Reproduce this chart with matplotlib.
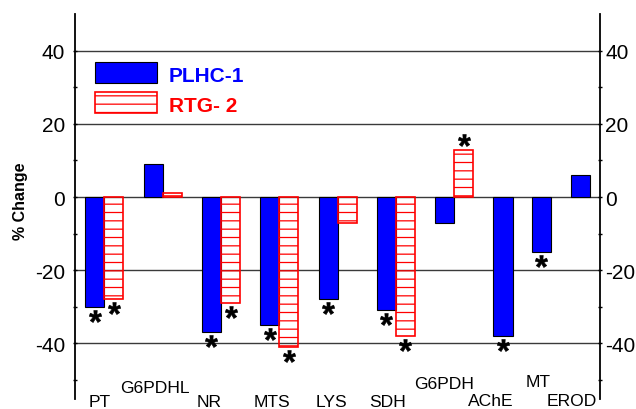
import numpy as np
import matplotlib
matplotlib.use("Agg")
import matplotlib.pyplot as plt
from matplotlib.patches import Rectangle
from matplotlib.path import Path
from matplotlib.textpath import TextPath
from matplotlib.font_manager import FontProperties
from matplotlib.transforms import blended_transform_factory

plt.rcParams['font.family'] = ['Liberation Sans', 'DejaVu Sans']
plt.rcParams['hatch.linewidth'] = 0.9
plt.rcParams['axes.unicode_minus'] = False

# ---- data: % change versus control for the two cell lines ----
endpoints = ["PT", "G6PDHL", "NR", "MTS", "LYS", "SDH", "G6PDH", "AChE", "MT", "EROD"]
plhc1 = [-30, 9, -37, -35, -28, -31, -7, -38, -15, 6]
rtg2 = [-28, 1, -29, -41, -7, -38, 13, None, None, None]
plhc1_sig = [True, False, True, True, True, True, False, True, True, False]
rtg2_sig = [True, False, True, True, False, True, True, False, False, False]

# ---- layout ----
slot = np.array([0, 1, 2, 3, 4, 5, 6, 7, 7.66, 8.33])
label_x = [-0.08, 0.87, 1.80, 2.87, 3.89, 4.86, 5.83, 6.63, 7.44, 8.01]
label_base_px = [407.0, 393.3, 407.0, 407.0, 407.0, 407.0, 389.5, 406.5, 386.7, 406.5]
bw = 0.327
star_gap = 2.5

W, H = 636, 410
fig = plt.figure(figsize=(W / 100, H / 100), dpi=100)
ax = fig.add_axes([75 / W, 10 / H, 525 / W, 385 / H])
ax.set_xlim(-0.504, 8.50)
ax.set_ylim(-55.3, 50.1)

# grid lines
for g in [-40, -20, 0, 20, 40]:
    ax.axhline(g, color='#3a3a3a', lw=1.0, zorder=1)

blue_x = slot - bw / 2
ax.bar(blue_x, plhc1, width=bw, color='#0000ff', edgecolor='black',
       linewidth=0.8, zorder=2)

red_idx = [i for i, v in enumerate(rtg2) if v is not None]
red_x = slot[red_idx] + bw / 2
red_vals = [rtg2[i] for i in red_idx]
ax.bar(red_x, red_vals, width=bw, facecolor='none', edgecolor='#ff0000',
       hatch='--', linewidth=1.2, zorder=2)

# asterisk marker centred on its own ink
fp = FontProperties(family='Liberation Sans', weight='bold')
tp = TextPath((0, 0), '*', prop=fp, size=1)
verts = tp.vertices.copy()
codes = tp.codes
ink = codes != Path.CLOSEPOLY
ctr = (verts[ink].min(axis=0) + verts[ink].max(axis=0)) / 2
verts = verts - ctr
verts[~ink] = 0.0
star = Path(verts, codes)

sx, sy = [], []
for i, v in enumerate(plhc1):
    if plhc1_sig[i]:
        sx.append(blue_x[i])
        sy.append(v - star_gap if v < 0 else v + star_gap)
for i, v in enumerate(rtg2):
    if v is not None and rtg2_sig[i]:
        sx.append(slot[i] + bw / 2)
        sy.append(v - star_gap if v < 0 else v + star_gap)
ax.plot(sx, sy, ls='none', marker=star, ms=9, mfc='black', mec='black',
        mew=0.4, zorder=3, clip_on=False)

# axes styling
for s in ['top', 'bottom', 'right']:
    ax.spines[s].set_visible(False)
ax.spines['left'].set_linewidth(1.3)
ax.set_xticks([])
ax.set_yticks([-40, -20, 0, 20, 40])
ax.set_yticks([-50, -30, -10, 10, 30], minor=True)
ax.tick_params(axis='y', which='both', direction='inout', width=1.0,
               labelsize=15, pad=5.5)
ax.tick_params(axis='y', which='major', length=3.5)
ax.tick_params(axis='y', which='minor', length=3)

ax2 = ax.twinx()
ax2.set_ylim(ax.get_ylim())
for s in ['top', 'bottom', 'left']:
    ax2.spines[s].set_visible(False)
ax2.spines['right'].set_linewidth(1.3)
ax2.set_yticks([-40, -20, 0, 20, 40])
ax2.set_yticks([-50, -30, -10, 10, 30], minor=True)
ax2.tick_params(axis='y', which='both', direction='inout', width=1.0,
                labelsize=15, pad=2.0)
ax2.tick_params(axis='y', which='major', length=3.5)
ax2.tick_params(axis='y', which='minor', length=3)

# category labels, staggered
trans = blended_transform_factory(ax.transData, fig.transFigure)
for name, x, b in zip(endpoints, label_x, label_base_px):
    ax.text(x, (H - b) / H, name, transform=trans, ha='center',
            va='baseline', fontsize=12.6, clip_on=False)

# legend
ax.add_patch(Rectangle((0.0381, 0.821), 0.118, 0.0545, transform=ax.transAxes,
                       facecolor='#0000ff', edgecolor='black', lw=0.8,
                       clip_on=False, zorder=4))
ax.add_patch(Rectangle((0.0381, 0.743), 0.118, 0.0545, transform=ax.transAxes,
                       facecolor='none', edgecolor='#ff0000', hatch='--',
                       lw=1.2, clip_on=False, zorder=4))
ax.text(0.179, 0.8268, 'PLHC-1', transform=ax.transAxes, color='#0000ff',
        fontsize=15, fontweight='bold', va='baseline')
ax.text(0.179, 0.7489, 'RTG- 2', transform=ax.transAxes, color='#ff0000',
        fontsize=15, fontweight='bold', va='baseline')

fig.text(21 / W, 1 - 201 / H, '% Change', rotation=90, ha='center',
         va='center', fontsize=11.5, fontweight='bold')

fig.savefig('out.png', dpi=100)
